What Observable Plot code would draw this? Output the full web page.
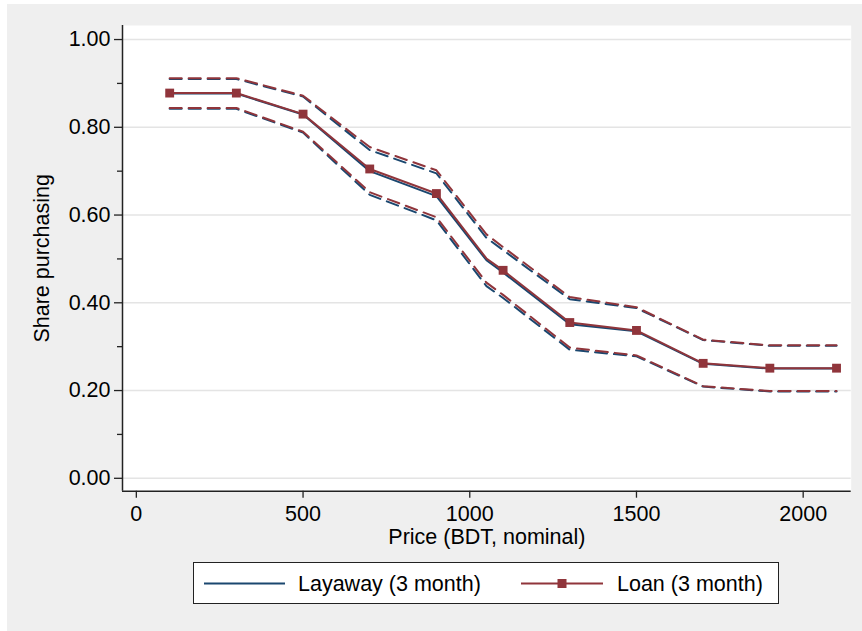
<!DOCTYPE html>
<html>
<head>
<meta charset="utf-8">
<script src="https://cdn.jsdelivr.net/npm/d3@7"></script>
<script src="https://cdn.jsdelivr.net/npm/@observablehq/plot@0.6"></script>
<style>
  html, body { margin: 0; padding: 0; background: #ffffff; }
  #bg { position: absolute; left: 7px; top: 4px; width: 855px; height: 627px; background: #efefef; }
  #chart { position: absolute; left: 0; top: 0; }
  #legend { position: absolute; left: 193px; top: 562px; width: 584px; height: 40px; background: #fff; border: 1px solid #222; }
  text { font-family: "Liberation Sans", Arial, Helvetica, sans-serif; }
</style>
</head>
<body>
<div id="bg"></div>
<div id="chart"></div>
<div id="legend"></div>
<script>
// ---- data ----
const prices      = [100, 300, 500, 700, 900, 1050, 1100, 1300, 1500, 1700, 1900, 2100];
const loanMarkers = [100, 300, 500, 700, 900, 1100, 1300, 1500, 1700, 1900, 2100];

const loan     = [0.878, 0.878, 0.830, 0.705, 0.649, 0.501, 0.474, 0.355, 0.337, 0.262, 0.251, 0.251];
const loanHi   = [0.912, 0.912, 0.872, 0.755, 0.702, 0.556, 0.527, 0.413, 0.390, 0.316, 0.303, 0.303];
const loanLo   = [0.844, 0.844, 0.790, 0.652, 0.595, 0.446, 0.418, 0.298, 0.280, 0.210, 0.199, 0.199];

const layaway  = [0.877, 0.877, 0.829, 0.700, 0.643, 0.497, 0.469, 0.351, 0.335, 0.261, 0.250, 0.250];
const layHi    = [0.910, 0.910, 0.870, 0.748, 0.695, 0.548, 0.520, 0.408, 0.388, 0.315, 0.302, 0.302];
const layLo    = [0.842, 0.842, 0.788, 0.646, 0.588, 0.438, 0.411, 0.293, 0.278, 0.209, 0.198, 0.198];

const xTicks  = [0, 500, 1000, 1500, 2000];
const yMajor  = [0, 0.2, 0.4, 0.6, 0.8, 1.0];
const yMinor  = [0.1, 0.3, 0.5, 0.7, 0.9];

const seriesNames = ["Layaway (3 month)", "Loan (3 month)"];
const xTitle = "Price (BDT, nominal)";
const yTitle = "Share purchasing";

// ---- styling ----
const BLUE = "#1a476f";
const RED = "#90353b";
const FONT = '"Liberation Sans", Arial, Helvetica, sans-serif';
const FS = 21.5;
const xDomain = [-41.5, 2144];
const yDomain = [-0.0294, 1.032];

const build = (mid, lo, hi) => prices.map((p, i) => ({price: p, mid: mid[i], lo: lo[i], hi: hi[i]}));
const layRows = build(layaway, layLo, layHi);
const loanRows = build(loan, loanLo, loanHi);
const loanMarkRows = loanRows.filter(d => loanMarkers.includes(d.price));

const dash = "12,7";

const chart = Plot.plot({
  width: 862,
  height: 545,
  marginLeft: 122,
  marginRight: 11.3,
  marginTop: 25,
  marginBottom: 54.3,
  style: {background: "transparent", fontFamily: FONT, fontSize: FS + "px", overflow: "visible", color: "#000"},
  x: {domain: xDomain, axis: null},
  y: {domain: yDomain, axis: null},
  marks: [
    Plot.frame({fill: "white", stroke: null}),
    Plot.gridY(yMajor, {stroke: "#e4e4e4", strokeOpacity: 1, strokeWidth: 1.5}),
    Plot.axisY(yMajor, {tickSize: 8, tickPadding: 4, tickFormat: d => d.toFixed(2), fontSize: FS, label: null, stroke: "#222", strokeWidth: 1.3}),
    Plot.axisY(yMinor, {tickSize: 5, tickFormat: () => "", label: null, stroke: "#222", strokeWidth: 1.3}),
    Plot.axisX(xTicks, {tickSize: 7, tickPadding: 8, tickFormat: d => String(d), fontSize: FS, label: null, stroke: "#222", strokeWidth: 1.3}),
    Plot.ruleX([xDomain[0]], {stroke: "#222", strokeWidth: 1.5}),
    Plot.ruleY([yDomain[0]], {stroke: "#222", strokeWidth: 1.5}),
    // Layaway
    Plot.line(layRows, {x: "price", y: "hi", stroke: BLUE, strokeWidth: 2, strokeDasharray: dash}),
    Plot.line(layRows, {x: "price", y: "lo", stroke: BLUE, strokeWidth: 2, strokeDasharray: dash}),
    Plot.line(layRows, {x: "price", y: "mid", stroke: BLUE, strokeWidth: 2}),
    // Loan
    Plot.line(loanRows, {x: "price", y: "hi", stroke: RED, strokeWidth: 2, strokeDasharray: dash}),
    Plot.line(loanRows, {x: "price", y: "lo", stroke: RED, strokeWidth: 2, strokeDasharray: dash}),
    Plot.line(loanRows, {x: "price", y: "mid", stroke: RED, strokeWidth: 2}),
    Plot.dot(loanMarkRows, {x: "price", y: "mid", symbol: "square", r: 5, fill: RED, stroke: null}),
    // axis titles
    Plot.text([yTitle], {text: d => d, frameAnchor: "left", rotate: -90, dx: -80, textAnchor: "middle", lineAnchor: "middle", fontSize: FS, fill: "#000"}),
    Plot.text([xTitle], {text: d => d, frameAnchor: "bottom", dy: 46, textAnchor: "middle", lineAnchor: "middle", fontSize: FS, fill: "#000"})
  ]
});
document.getElementById("chart").appendChild(chart);

// ---- legend ----
const ns = "http://www.w3.org/2000/svg";
const lg = document.createElementNS(ns, "svg");
lg.setAttribute("width", 584);
lg.setAttribute("height", 40);
lg.style.display = "block";
const mk = (tag, attrs) => { const e = document.createElementNS(ns, tag); for (const k in attrs) e.setAttribute(k, attrs[k]); lg.appendChild(e); return e; };
const cy = 20.5;
mk("line", {x1: 10, x2: 91, y1: cy, y2: cy, stroke: BLUE, "stroke-width": 2});
let t1 = mk("text", {x: 104, y: cy, "dominant-baseline": "central", "font-size": FS, fill: "#000"});
t1.textContent = seriesNames[0];
mk("line", {x1: 327, x2: 409, y1: cy, y2: cy, stroke: RED, "stroke-width": 2});
mk("rect", {x: 368 - 4.5, y: cy - 4.5, width: 9, height: 9, fill: RED});
let t2 = mk("text", {x: 423, y: cy, "dominant-baseline": "central", "font-size": FS, fill: "#000"});
t2.textContent = seriesNames[1];
document.getElementById("legend").appendChild(lg);
</script>
</body>
</html>
